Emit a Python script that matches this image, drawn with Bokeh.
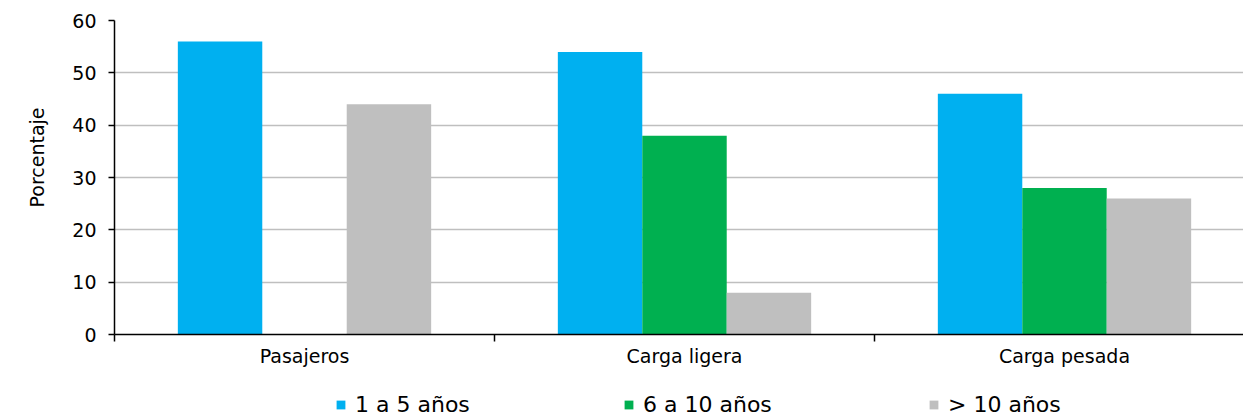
from bokeh.plotting import figure
from bokeh.layouts import column
from bokeh.models import Range1d, FixedTicker, Legend, LegendItem, Title, ColumnDataSource
from bokeh.embed import file_html
from bokeh.resources import INLINE

# Data: share of vehicles by age group for each vehicle type
categories = ["Pasajeros", "Carga ligera", "Carga pesada"]
series_names = ["1 a 5 años", "6 a 10 años", "> 10 años"]
values_1_5 = [56, 54, 46]
values_6_10 = [0, 38, 28]
values_10_plus = [44, 8, 26]
y_ticks = [0, 10, 20, 30, 40, 50, 60]
y_label = "Porcentaje"

colors = ["#00B0F0", "#00B050", "#BFBFBF"]
axis_font = "DejaVu Sans"
legend_font = "DejaVu Sans"

n_cat = len(categories)
bar_w = 1 / 4.5
centers = [i + 0.5 for i in range(n_cat)]

p = figure(
    width=1243, height=377,
    output_backend="svg", toolbar_location=None,
    x_range=Range1d(0, 1129 / 380), y_range=Range1d(0, 60),
    min_border_left=114, min_border_right=0,
    min_border_top=20, min_border_bottom=43,
)
p.outline_line_color = None
p.background_fill_color = "white"
p.border_fill_color = "white"

series = [values_1_5, values_6_10, values_10_plus]
offsets = [-bar_w, 0.0, bar_w]
for vals, off, col in zip(series, offsets, colors):
    src = ColumnDataSource(dict(x=[c + off for c in centers], top=vals))
    p.vbar(x="x", top="top", width=bar_w, source=src,
           fill_color=col, line_color=None)

# grid
p.xgrid.visible = False
p.ygrid.grid_line_color = "#BFBFBF"
p.ygrid.grid_line_width = 1.5
p.ygrid.ticker = FixedTicker(ticks=y_ticks)

# y axis
ya = p.yaxis[0]
ya.ticker = FixedTicker(ticks=y_ticks)
ya.axis_line_color = "black"
ya.axis_line_width = 1.5
ya.major_tick_line_color = "black"
ya.major_tick_line_width = 1.5
ya.major_tick_in = 0
ya.major_tick_out = 6
ya.minor_tick_line_color = None
ya.major_label_standoff = 12
ya.major_label_text_font = axis_font
ya.major_label_text_font_size = "19px"
ya.major_label_text_color = "black"

# x axis: labels at category centres, ticks on category boundaries
xa = p.xaxis[0]
xa.ticker = FixedTicker(ticks=centers, minor_ticks=list(range(n_cat + 1)))
xa.major_label_overrides = {c: name for c, name in zip(centers, categories)}
xa.axis_line_color = "black"
xa.axis_line_width = 1.5
xa.major_tick_in = 0
xa.major_tick_out = 0
xa.minor_tick_in = 0
xa.minor_tick_out = 7
xa.minor_tick_line_color = "black"
xa.minor_tick_line_width = 1.5
xa.major_label_standoff = 3
xa.major_label_text_font = axis_font
xa.major_label_text_font_size = "19px"
xa.major_label_text_color = "black"

# y axis title, placed as a vertical title in the left panel
p.add_layout(Title(
    text=y_label, align="left", offset=127, standoff=40,
    vertical_align="top",
    text_font=axis_font, text_font_size="19px", text_font_style="normal",
    text_color="black",
), "left")

# legend strip under the chart (its frame lines up with the chart frame)
lp = figure(
    width=1243, height=40,
    output_backend="svg", toolbar_location=None,
    x_range=Range1d(0, 1), y_range=Range1d(0, 1),
    x_axis_location=None, y_axis_location=None,
    min_border=0,
)
lp.grid.visible = False
lp.outline_line_color = None
lp.border_fill_color = "white"
lp.background_fill_color = "white"

legend_x = [221, 509, 814]
for name, col, lx in zip(series_names, colors, legend_x):
    # zero-height bar: only its legend swatch is seen
    swatch = lp.vbar(x=[0.5], top=[0], bottom=[0], width=0.1,
                     fill_color=col, line_color=None)
    lg = Legend(
        items=[LegendItem(label=name, renderers=[swatch])],
        location=(lx, 0),
        padding=0, margin=0, spacing=0,
        glyph_width=11, glyph_height=11, label_standoff=9,
        label_text_font=legend_font, label_text_font_size="22px",
        label_text_color="black",
        border_line_color=None, background_fill_alpha=0,
    )
    lp.add_layout(lg)

layout = column(p, lp, spacing=0)
open("out.html", "w").write(file_html(layout, INLINE))
